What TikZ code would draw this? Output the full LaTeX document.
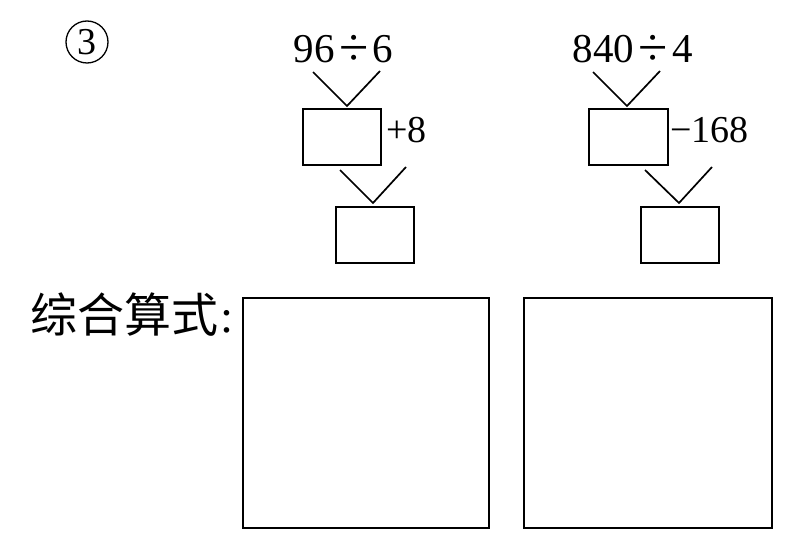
\documentclass[tikz,border=0pt]{standalone}
\usepackage{fontspec}
\usepackage{graphicx}
\setmainfont{Liberation Serif}
\newfontfamily\cjk{Noto Sans CJK SC}
\newcommand{\bigdiv}{\hspace{0.11em}\raisebox{-3pt}{\scalebox{1.3}{÷}}\hspace{0.11em}}
\begin{document}
\begin{tikzpicture}[x=1pt,y=-1pt,
  boxnode/.style={draw, line width=1.7pt, inner sep=0pt, anchor=north west},
  vline/.style={line width=1.7pt},
  expr/.style={inner sep=0pt, anchor=base, font=\fontsize{41}{48}\selectfont},
  oplabel/.style={inner sep=0pt, anchor=base west, font=\fontsize{38}{44}\selectfont}]
\useasboundingbox (0,0) rectangle (792,540);
% circled number
\node[draw, circle, line width=1.3pt, minimum size=42pt, inner sep=0pt,
      font=\fontsize{38}{40}\selectfont] (num) at (87,42) {3};
% left chain
\node[expr] (e1) at (343.5,63) {96\bigdiv 6};
\node[boxnode, minimum width=78pt, minimum height=56pt] (b1) at (302,108) {};
\node[oplabel] (o1) at (386,143) {+8};
\node[boxnode, minimum width=78pt, minimum height=56pt] (b2) at (335,206) {};
\coordinate (v1l) at (313,72);
\coordinate (v1b) at (347,106);
\coordinate (v1r) at (380,71);
\coordinate (v2l) at (340,170);
\coordinate (v2b) at (373,203);
\coordinate (v2r) at (406,167);
\draw[vline] (v1l) -- (v1b) -- (v1r);
\draw[vline] (v2l) -- (v2b) -- (v2r);
% right chain
\node[expr] (e2) at (633,63) {840\bigdiv 4};
\node[boxnode, minimum width=79pt, minimum height=56pt] (b3) at (588,108) {};
\node[oplabel] (o2) at (670,143) {−168};
\node[boxnode, minimum width=78pt, minimum height=56pt] (b4) at (640,206) {};
\coordinate (v3l) at (593,72);
\coordinate (v3b) at (627,106);
\coordinate (v3r) at (660,71);
\coordinate (v4l) at (645,170);
\coordinate (v4b) at (679,203);
\coordinate (v4r) at (712,167);
\draw[vline] (v3l) -- (v3b) -- (v3r);
\draw[vline] (v4l) -- (v4b) -- (v4r);
% bottom
\node[inner sep=0pt, anchor=west, font=\fontsize{47}{52}\selectfont] (lbl) at (30,315) {{\cjk 综合算式}\hspace{0.05em}:};
\node[boxnode, minimum width=246pt, minimum height=230pt] (big1) at (242,297) {};
\node[boxnode, minimum width=248pt, minimum height=230pt] (big2) at (523,297) {};
\end{tikzpicture}
\end{document}
